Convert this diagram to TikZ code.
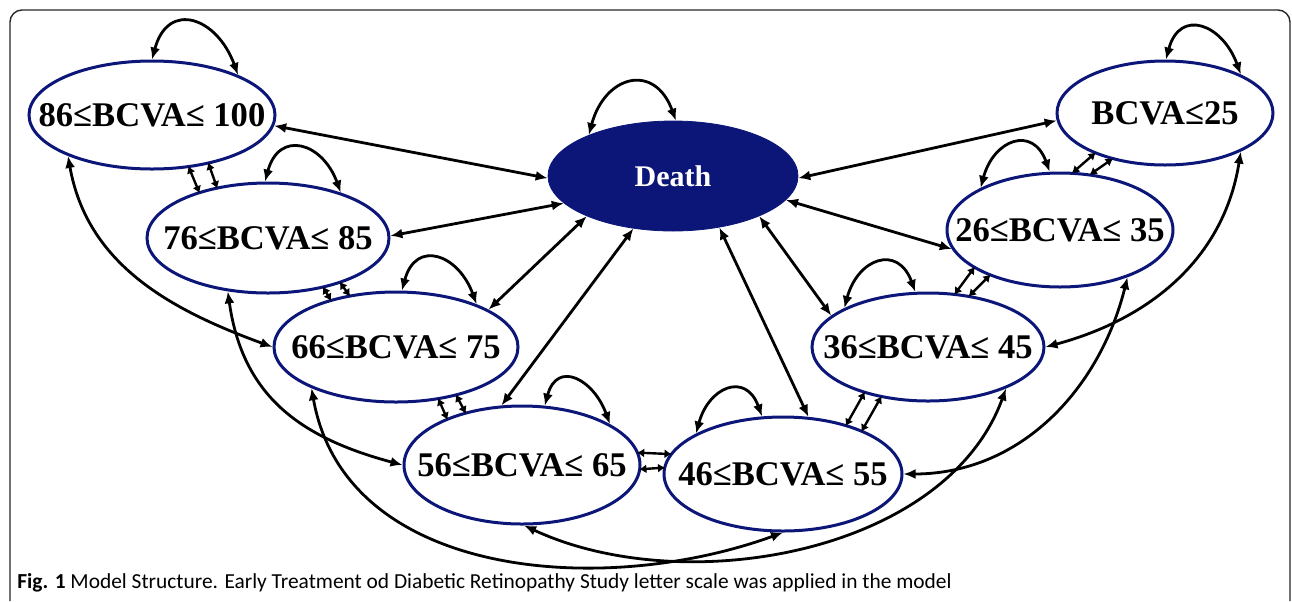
\documentclass[tikz,border=0pt]{standalone}
\usepackage{fontspec}
\setmainfont{Liberation Serif}
\newfontfamily\capfont{Carlito}
\usetikzlibrary{shapes.geometric,arrows.meta}
\definecolor{navyblue}{RGB}{12,22,120}
\newcommand{\lbl}[1]{\makebox[0pt]{#1}}

\begin{document}
\begin{tikzpicture}[x=0.5pt, y=-0.5pt]
    % Define styles
    \tikzset{
        state/.style={ellipse, draw=navyblue, line width=1.5pt, fill=white, inner sep=0pt, font=\fontsize{17.3}{20}\selectfont\bfseries},
        absorb/.style={ellipse, draw=navyblue, fill=navyblue, text=white, inner sep=0pt, font=\fontsize{15}{18}\selectfont\bfseries},
        link/.style={{Latex[length=6pt,width=5pt]}-{Latex[length=6pt,width=5pt]}, line width=1.4pt},
        selfloop/.style={link, out=75, in=110, looseness=1.8},
        pair/.style={{Latex[length=3.6pt,width=4.5pt]}-{Latex[length=3.6pt,width=4.5pt]}, line width=1.2pt, shorten <=-1pt, shorten >=-1pt}
    }
    \useasboundingbox (0,0) rectangle (1292,601);

    % Frame
    \draw[line width=0.7pt, rounded corners=6pt, black!85] (10,601) -- (10,10) -- (1290,10) -- (1290,601);

    % States, left branch
    \node[state, minimum width=123pt, minimum height=54pt] (n86) at (152,115) {\lbl{86≤BCVA≤ 100}};
    \node[state, minimum width=121pt, minimum height=55pt] (n76) at (268,238) {\lbl{76≤BCVA≤ 85}};
    \node[state, minimum width=122pt, minimum height=55pt] (n66) at (396,347) {\lbl{66≤BCVA≤ 75}};
    \node[state, minimum width=118pt, minimum height=59pt] (n56) at (522,465) {\lbl{56≤BCVA≤ 65}};

    % States, right branch
    \node[state, minimum width=119pt, minimum height=57pt] (n46) at (783,474) {\lbl{46≤BCVA≤ 55}};
    \node[state, minimum width=116pt, minimum height=54pt] (n36) at (928,347) {\lbl{36≤BCVA≤ 45}};
    \node[state, minimum width=113pt, minimum height=57pt] (n26) at (1060,230) {\lbl{26≤BCVA≤ 35}};
    \node[state, minimum width=108pt, minimum height=52pt] (n25) at (1165,113) {\lbl{BCVA≤25}};

    % Absorbing state
    \node[absorb, minimum width=125pt, minimum height=55pt] (death) at (673,176) {Death};

    % Staying in the same state
    \foreach \n/\a/\b in {n86/90/25, n76/93/32, n66/84/28, n56/69/25, n46/155/110, n36/155/103, n26/152/100, n25/89/27, death/154/87}
        \draw[selfloop] (\n.\a) to (\n.\b);

    % Transitions to death
    \foreach \n/\a/\b in {n86/355/181, n76/1/194, n66/22/205, n56/109/233, n46/66/312, n36/162/335, n26/190/348, n25/184/359}
        \draw[link] (\n.\a) -- (death.\b);

    % Neighbouring states
    \foreach \u/\v/\a/\b/\c/\d in {n86/n76/305/146/319/135, n76/n66/318/144/328/132, n66/n56/309/148/321/137, n56/n46/6/170/358/177, n46/n36/38/216/29/227, n36/n26/63/204/51/213, n26/n25/77/210/61/221} {
        \draw[pair] (\u.\a) -- (\v.\b);
        \draw[pair] (\u.\c) -- (\v.\d);
    }

    % Skipping one state
    \draw[link] (n86.206) to[out=-80, in=160] (n66.180);
    \draw[link] (n76.233) to[out=-82, in=165, looseness=1.1] (n56.180);
    \draw[link] (n66.206) to[out=-80, in=200] (n46.270);
    \draw[link] (n56.272) to[out=-25, in=250, looseness=0.9] (n36.332);
    \draw[link] (n26.325) to[out=-104, in=0] (n46.0);
    \draw[link] (n25.333) to[out=-99, in=15] (n36.0);

    % Caption
    \node[anchor=west, inner sep=0pt, font=\capfont\fontsize{10.7}{12}\selectfont] (caption) at (17,583) {\textbf{Fig. 1} Model Structure. Early Treatment od Diabetic Retinopathy Study letter scale was applied in the model};
\end{tikzpicture}
\end{document}
